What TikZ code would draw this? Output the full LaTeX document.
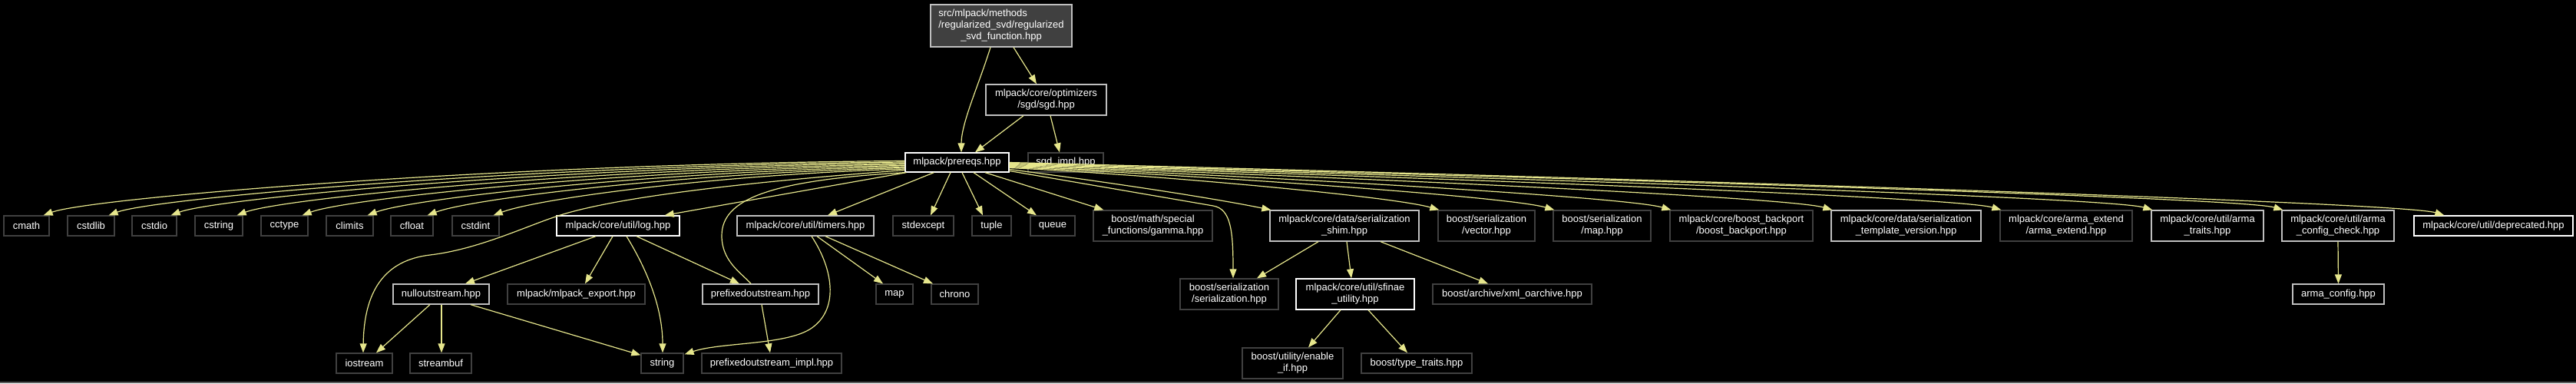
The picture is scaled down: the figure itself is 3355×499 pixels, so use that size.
\documentclass[tikz,border=0pt]{standalone}
\usepackage{fontspec}
\setmainfont{Liberation Sans}
\usetikzlibrary{arrows.meta}
\definecolor{edgec}{RGB}{230,230,140}
\definecolor{lnkc}{RGB}{191,191,191}
\definecolor{sysc}{RGB}{64,64,64}
\definecolor{topfill}{RGB}{64,64,64}
\definecolor{framec}{RGB}{90,90,90}
\newcommand{\mkbox}[7]{\node[#6, minimum width={#3-#2}, minimum height={#5-#4}] (#1) at ({(#2+#3)/2},{(#4+#5)/2}) {#7};}
\begin{document}
\begin{tikzpicture}[x=1pt,y=-1pt,
  box/.style={draw, rectangle, fill=black, text=white, inner sep=0pt, align=center, font=\fontsize{13}{15}\selectfont, line width=1.3pt},
  sys/.style={box, draw=sysc},
  lnk/.style={box, draw=lnkc},
  lnkw/.style={box, draw=white},
  topn/.style={box, draw=lnkc, fill=topfill},
  dep/.style={draw=edgec, line width=1.2pt, -{Triangle[length=12pt,width=9pt]}},
  depn/.style={draw=edgec, line width=1.2pt}]
\fill[black] (0,0) rectangle (3355,499);
\useasboundingbox (0,0) rectangle (3355,499);
\draw[framec, line width=2pt] (0,498) -- (3355,498);
% row 0-2
\mkbox{top}{1212}{1396}{6}{61}{topn}{\rlap{src/mlpack/methods}\phantom{/regularized\_svd/regularized}\\/regularized\_svd/regularized\\\_svd\_function.hpp}
\mkbox{sgd}{1284}{1441}{110}{150}{lnk}{mlpack/core/optimizers\\/sgd/sgd.hpp}
\mkbox{prereqs}{1179}{1314}{199}{224}{lnkw}{mlpack/prereqs.hpp}
\mkbox{sgdimpl}{1339}{1437}{199}{224}{sys}{sgd\_impl.hpp}
% row 3
\mkbox{cmath}{5}{64}{281}{307}{sys}{cmath}
\mkbox{cstdlib}{88}{149}{281}{307}{sys}{cstdlib}
\mkbox{cstdio}{172}{230}{281}{307}{sys}{cstdio}
\mkbox{cstring}{254}{316}{281}{307}{sys}{cstring}
\mkbox{cctype}{340}{401}{281}{307}{sys}{cctype}
\mkbox{climits}{425}{486}{281}{307}{sys}{climits}
\mkbox{cfloat}{509}{564}{281}{307}{sys}{cfloat}
\mkbox{cstdint}{589}{650}{281}{307}{sys}{cstdint}
\mkbox{log}{725}{885}{281}{307}{lnkw}{mlpack/core/util/log.hpp}
\mkbox{timers}{960}{1138}{281}{307}{lnk}{mlpack/core/util/timers.hpp}
\mkbox{stdexcept}{1163}{1242}{281}{307}{sys}{stdexcept}
\mkbox{tuple}{1266}{1317}{281}{307}{sys}{tuple}
\mkbox{queue}{1342}{1400}{281}{307}{sys}{queue}
\mkbox{gamma}{1424}{1579}{274}{314}{sys}{boost/math/special\\\_functions/gamma.hpp}
\mkbox{shim}{1654}{1848}{274}{314}{lnk}{mlpack/core/data/serialization\\\_shim.hpp}
\mkbox{vector}{1873}{1999}{274}{314}{sys}{boost/serialization\\/vector.hpp}
\mkbox{maph}{2023}{2150}{274}{314}{sys}{boost/serialization\\/map.hpp}
\mkbox{backport}{2175}{2361}{274}{314}{sys}{mlpack/core/boost\_backport\\/boost\_backport.hpp}
\mkbox{tmplver}{2385}{2580}{274}{314}{lnk}{mlpack/core/data/serialization\\\_template\_version.hpp}
\mkbox{armaext}{2605}{2777}{274}{314}{sys}{mlpack/core/arma\_extend\\/arma\_extend.hpp}
\mkbox{armatraits}{2802}{2948}{274}{314}{lnk}{mlpack/core/util/arma\\\_traits.hpp}
\mkbox{armacc}{2972}{3118}{274}{314}{lnk}{mlpack/core/util/arma\\\_config\_check.hpp}
\mkbox{deprecated}{3144}{3351}{281}{307}{lnkw}{mlpack/core/util/deprecated.hpp}
% row 4
\mkbox{nullout}{512}{637}{370}{396}{lnk}{nulloutstream.hpp}
\mkbox{mlexport}{661}{840}{370}{396}{sys}{mlpack/mlpack\_export.hpp}
\mkbox{prefout}{915}{1066}{370}{396}{lnk}{prefixedoutstream.hpp}
\mkbox{stdmap}{1141}{1189}{370}{396}{sys}{map}
\mkbox{chrono}{1213}{1274}{370}{396}{sys}{chrono}
\mkbox{bser}{1537}{1665}{363}{403}{sys}{boost/serialization\\/serialization.hpp}
\mkbox{sfinae}{1688}{1842}{363}{403}{lnkw}{mlpack/core/util/sfinae\\\_utility.hpp}
\mkbox{xmlo}{1866}{2073}{370}{396}{sys}{boost/archive/xml\_oarchive.hpp}
\mkbox{armacfg}{2986}{3105}{370}{396}{lnk}{arma\_config.hpp}
% row 5
\mkbox{iostream}{438}{511}{460}{486}{sys}{iostream}
\mkbox{streambuf}{534}{614}{460}{486}{sys}{streambuf}
\mkbox{string}{835}{890}{460}{486}{sys}{string}
\mkbox{prefimpl}{914}{1096}{460}{486}{sys}{prefixedoutstream\_impl.hpp}
\mkbox{enableif}{1618}{1749}{453}{493}{sys}{boost/utility/enable\\\_if.hpp}
\mkbox{typetraits}{1773}{1917}{460}{486}{sys}{boost/type\_traits.hpp}
% top edges
\draw[dep] ([xshift=-14pt]top.south) .. controls (1275,110) and (1252,160) .. ([xshift=5.5pt]prereqs.north);
\draw[dep] ([xshift=16pt]top.south) -- ([xshift=-12.5pt]sgd.north);
\draw[dep] ([xshift=-29.5pt]sgd.south) -- ([xshift=23.5pt]prereqs.north);
\draw[dep] ([xshift=5.5pt]sgd.south) -- ([xshift=-8pt]sgdimpl.north);
% left fan
\draw[dep] ([yshift=2pt]prereqs.west) .. controls (648,213) and (117,258) .. ([xshift=-8pt]cmath.north east);
\draw[dep] ([yshift=0.5pt]prereqs.west) .. controls (690,215) and (201,258) .. ([xshift=-8pt]cstdlib.north east);
\draw[dep] ([yshift=-1pt]prereqs.west) .. controls (730,217) and (282,258) .. ([xshift=-8pt]cstdio.north east);
\draw[dep] ([yshift=-2.5pt]prereqs.west) .. controls (773,219) and (368,258) .. ([xshift=-8pt]cstring.north east);
\draw[dep] ([yshift=-4pt]prereqs.west) .. controls (816,221) and (453,258) .. ([xshift=-8pt]cctype.north east);
\draw[dep] ([yshift=-5.5pt]prereqs.west) .. controls (858,223) and (538,258) .. ([xshift=-8pt]climits.north east);
\draw[dep] ([yshift=-7pt]prereqs.west) .. controls (897,225) and (616,258) .. ([xshift=-8pt]cfloat.north east);
\draw[dep] ([yshift=-8.5pt]prereqs.west) .. controls (940,227) and (702,258) .. ([xshift=-8pt]cstdint.north east);
\draw[dep] ([yshift=-10pt]prereqs.west) .. controls (1000,235) and (800,255) .. (721,283) .. controls (680,297) and (620,325) .. (560,332) .. controls (500,339) and (474,380) .. ([xshift=-1.5pt]iostream.north);
\draw[dep] ([xshift=2pt]prereqs.south west) -- ([xshift=-20pt]log.north east);
\draw[depn] (prereqs.south west) .. controls (1000,235) and (940,260) .. (940,307) .. controls (940,340) and (965,355) .. ([xshift=-12.5pt]prefout.north);
% middle
\draw[dep] ([xshift=38pt]prereqs.south west) -- ([xshift=29pt]timers.north);
\draw[dep] ([xshift=-8.5pt]prereqs.south) -- ([xshift=9.5pt]stdexcept.north);
\draw[dep] ([xshift=6.5pt]prereqs.south) -- ([xshift=-11.5pt]tuple.north);
\draw[dep] ([xshift=21.5pt]prereqs.south) -- ([xshift=-21pt]queue.north);
\draw[dep] ([xshift=36.5pt]prereqs.south) -- ([xshift=14pt]gamma.north west);
% right fan
\draw[dep] ([yshift=-11pt]prereqs.east) -- (1580,268) .. controls (1603,272) and (1606,300) .. ([xshift=5pt]bser.north);
\draw[dep] ([yshift=-9pt]prereqs.east) .. controls (1450,238) and (1580,258) .. ([xshift=2pt]shim.north west);
\draw[dep] ([yshift=-7pt]prereqs.east) .. controls (1510,228) and (1815,256) .. ([xshift=2pt]vector.north west);
\draw[dep] ([yshift=-6pt]prereqs.east) .. controls (1563,228) and (1965,256) .. ([xshift=2pt]maph.north west);
\draw[dep] ([yshift=-5pt]prereqs.east) .. controls (1616,228) and (2117,256) .. ([xshift=2pt]backport.north west);
\draw[dep] ([yshift=-4pt]prereqs.east) .. controls (1690,228) and (2327,256) .. ([xshift=2pt]tmplver.north west);
\draw[dep] ([yshift=-3pt]prereqs.east) .. controls (1767,228) and (2547,256) .. ([xshift=2pt]armaext.north west);
\draw[dep] ([yshift=-2pt]prereqs.east) .. controls (1836,228) and (2744,256) .. ([xshift=2pt]armatraits.north west);
\draw[dep] ([yshift=-1pt]prereqs.east) .. controls (1895,228) and (2914,256) .. ([xshift=2pt]armacc.north west);
\draw[dep] (prereqs.east) .. controls (1968,228) and (3124,262) .. ([xshift=40pt]deprecated.north west);
% lower
\draw[dep] ([xshift=-29pt]log.south) -- ([xshift=31.5pt]nullout.north);
\draw[dep] ([xshift=-7pt]log.south) -- ([xshift=11.5pt]mlexport.north);
\draw[dep] ([xshift=11pt]log.south) .. controls (842,350) and (863,400) .. ([xshift=0.5pt]string.north);
\draw[dep] ([xshift=24pt]log.south) -- ([xshift=-27.5pt]prefout.north);
\draw[dep] ([xshift=-14.5pt]nullout.south) -- ([xshift=15.5pt]iostream.north);
\draw[dep] ([xshift=0.5pt]nullout.south) -- ([xshift=1pt]streambuf.north);
\draw[dep] ([xshift=38.5pt]nullout.south) -- ([yshift=-3pt]string.north west);
\draw[dep] ([xshift=8pt]timers.south) .. controls (1085,350) and (1092,400) .. (1060,425) .. controls (1030,450) and (940,445) .. ([xshift=1pt,yshift=-2pt]string.north east);
\draw[dep] ([xshift=15pt]timers.south) -- ([xshift=-15pt]stdmap.north);
\draw[dep] ([xshift=26pt]timers.south) -- ([xshift=-28.5pt]chrono.north);
\draw[dep] ([xshift=1.5pt]prefout.south) -- ([xshift=-2pt]prefimpl.north);
\draw[dep] ([xshift=-34pt]shim.south) -- ([xshift=36pt]bser.north);
\draw[dep] ([xshift=3pt]shim.south) -- ([xshift=-5pt]sfinae.north);
\draw[dep] ([xshift=47pt]shim.south) -- ([xshift=-31.5pt]xmlo.north);
\draw[dep] ([xshift=-19pt]sfinae.south) -- ([xshift=20.5pt]enableif.north);
\draw[dep] ([xshift=17pt]sfinae.south) -- ([xshift=-12pt]typetraits.north);
\draw[dep] (armacc.south) -- (armacfg.north);
\end{tikzpicture}
\end{document}
